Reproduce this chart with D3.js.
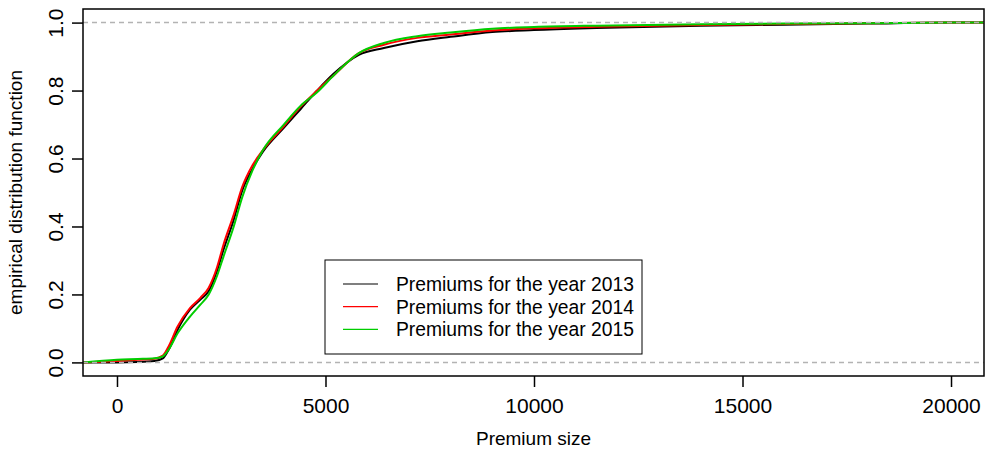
<!DOCTYPE html>
<html>
<head>
<meta charset="utf-8">
<script src="https://cdn.jsdelivr.net/npm/d3@7"></script>
<style>
  html, body { margin: 0; padding: 0; background: #fff; }
  svg { display: block; font-family: "Liberation Sans", Arial, Helvetica, sans-serif; }
</style>
</head>
<body>
<svg id="chart" width="985" height="451"></svg>
<script>
// Premium sizes at which the empirical distribution functions are evaluated
const premiumSize = [0, 500, 900, 1100, 1250, 1450, 1750, 2000, 2200, 2400, 2550, 2800, 3000, 3250, 3500,
  4000, 4400, 4800, 5200, 5800, 6400, 7200, 8000, 9000, 10000, 11500, 14000, 16000, 18000, 20000];

// ECDF values per year
const ecdf2013 = [0, 0.001, 0.004, 0.012, 0.04, 0.095, 0.155, 0.185, 0.21, 0.27, 0.33, 0.42, 0.505, 0.57, 0.62,
  0.69, 0.745, 0.80, 0.85, 0.905, 0.925, 0.945, 0.958, 0.972, 0.978, 0.984, 0.991, 0.994, 0.997, 1.0];
const ecdf2014 = [0.004, 0.008, 0.011, 0.02, 0.05, 0.105, 0.16, 0.19, 0.22, 0.28, 0.345, 0.435, 0.515, 0.58, 0.625,
  0.695, 0.752, 0.80, 0.845, 0.91, 0.935, 0.955, 0.965, 0.977, 0.983, 0.988, 0.993, 0.996, 0.998, 1.0];
const ecdf2015 = [0.008, 0.01, 0.012, 0.018, 0.04, 0.085, 0.135, 0.17, 0.2, 0.255, 0.31, 0.40, 0.485, 0.565, 0.625,
  0.70, 0.755, 0.795, 0.845, 0.91, 0.94, 0.96, 0.971, 0.982, 0.987, 0.991, 0.995, 0.997, 0.998, 1.0];

const seriesNames = ["Premiums for the year 2013", "Premiums for the year 2014", "Premiums for the year 2015"];
const seriesColors = ["#000000", "#ff0000", "#00cd00"];
const seriesValues = [ecdf2013, ecdf2014, ecdf2015];

const xTicks = [0, 5000, 10000, 15000, 20000];
const yTicks = [0, 0.2, 0.4, 0.6, 0.8, 1.0];

const svg = d3.select("#chart");
const plot = { left: 83, right: 984, top: 9, bottom: 376 };

const x = d3.scaleLinear().domain([-815, 20791]).range([plot.left, plot.right]);
const y = d3.scaleLinear().domain([-0.04, 1.04]).range([plot.bottom, plot.top]);

// Clip the curves to the plotting region
svg.append("defs").append("clipPath").attr("id", "plotclip")
  .append("rect")
  .attr("x", plot.left).attr("y", plot.top)
  .attr("width", plot.right - plot.left).attr("height", plot.bottom - plot.top);

const line = d3.line().x(d => x(d[0])).y(d => y(d[1])).curve(d3.curveMonotoneX);

const curves = svg.append("g").attr("clip-path", "url(#plotclip)");
seriesValues.forEach((vals, i) => {
  // extend horizontally to the edges of the plotting region, as an ECDF does
  const pts = [[x.domain()[0], 0]]
    .concat(premiumSize.map((p, j) => [p, vals[j]]))
    .concat([[x.domain()[1], 1]]);
  curves.append("path")
    .datum(pts)
    .attr("fill", "none")
    .attr("stroke", seriesColors[i])
    .attr("stroke-width", 2)
    .attr("stroke-linejoin", "round")
    .attr("d", line);
});

// Reference lines at 0 and 1
[0, 1].forEach(v => {
  svg.append("line")
    .attr("x1", plot.left).attr("x2", plot.right)
    .attr("y1", y(v)).attr("y2", y(v))
    .attr("stroke", "#b3b3b3").attr("stroke-width", 1.5)
    .attr("stroke-dasharray", "5,4");
});

// Frame
svg.append("rect")
  .attr("x", plot.left).attr("y", plot.top)
  .attr("width", plot.right - plot.left).attr("height", plot.bottom - plot.top)
  .attr("fill", "none").attr("stroke", "#000").attr("stroke-width", 1.5);

// X axis
const xAxis = svg.append("g")
  .attr("transform", `translate(0,${plot.bottom})`)
  .call(d3.axisBottom(x).tickValues(xTicks).tickFormat(d3.format("d")).tickSize(11).tickPadding(10));
xAxis.select(".domain").remove();
xAxis.selectAll(".tick line").attr("stroke", "#000").attr("stroke-width", 1.5);
xAxis.selectAll(".tick text")
  .attr("font-size", 21).attr("font-family", "Liberation Sans, Arial, sans-serif")
  .attr("fill", "#000").attr("dy", null).attr("y", 37);

// Y axis
const yAxis = svg.append("g")
  .attr("transform", `translate(${plot.left},0)`)
  .call(d3.axisLeft(y).tickValues(yTicks).tickFormat(d3.format(".1f")).tickSize(11));
yAxis.select(".domain").remove();
yAxis.selectAll(".tick line").attr("stroke", "#000").attr("stroke-width", 1.5);
yAxis.selectAll(".tick text")
  .attr("font-size", 21).attr("font-family", "Liberation Sans, Arial, sans-serif")
  .attr("fill", "#000")
  .attr("x", null).attr("dy", null)
  .attr("text-anchor", "middle")
  .attr("transform", "translate(-20,0) rotate(-90)");

// Axis titles
svg.append("text")
  .attr("x", (plot.left + plot.right) / 2).attr("y", 445)
  .attr("text-anchor", "middle").attr("font-size", 19)
  .text("Premium size");

svg.append("text")
  .attr("transform", `translate(22,${(plot.top + plot.bottom) / 2}) rotate(-90)`)
  .attr("text-anchor", "middle").attr("font-size", 19)
  .text("empirical distribution function");

// Legend
const legend = svg.append("g").attr("transform", "translate(325,260)");
legend.append("rect")
  .attr("width", 317).attr("height", 94)
  .attr("fill", "#fff").attr("stroke", "#000").attr("stroke-width", 1);
seriesNames.forEach((name, i) => {
  const cy = 24 + i * 22.7;
  legend.append("line")
    .attr("x1", 18).attr("x2", 53).attr("y1", cy).attr("y2", cy)
    .attr("stroke", seriesColors[i]).attr("stroke-width", 1.2);
  legend.append("text")
    .attr("x", 71).attr("y", cy + 7)
    .attr("font-size", 19.3)
    .text(name);
});
</script>
</body>
</html>
